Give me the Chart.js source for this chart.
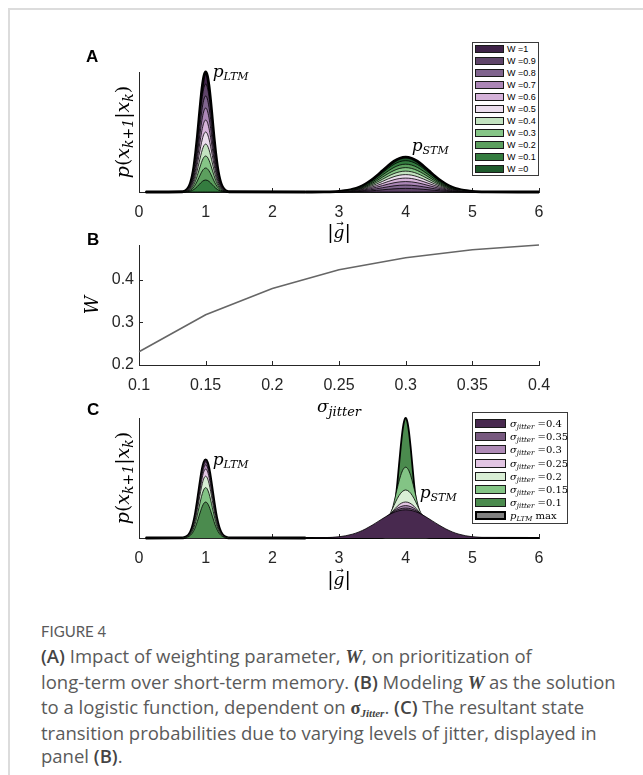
<!DOCTYPE html>
<html>
<head>
<meta charset="utf-8">
<script src="https://cdn.jsdelivr.net/npm/chart.js@4.4.1/dist/chart.umd.min.js"></script>
<style>
  body { margin: 0; width: 643px; height: 775px; overflow: hidden; position: relative; background: #fff; font-family: "Liberation Sans", Arial, sans-serif; }
  #frame { position: absolute; left: 8px; top: 8px; right: -10px; bottom: -10px; border-left: 2px solid #dcdcdc; border-top: 2px solid #dcdcdc; }
  canvas { position: absolute; left: 0; }
  .panel { position: absolute; font: bold 17px "Liberation Sans", Arial, sans-serif; color: #000; line-height: 17px; }
  .legend { position: absolute; background: #fff; border: 1px solid #3a3a3a; box-sizing: border-box; z-index: 5; }
  .legend .row { display: flex; align-items: center; white-space: nowrap; color: #000; }
  .legend .sw { box-sizing: border-box; flex: none; border: 1px solid #1a1a1a; }
  #legA { left: 472px; top: 42px; width: 67px; height: 134px; }
  #legA .row { height: 12px; font-size: 9px; }
  #legA .sw { width: 29px; height: 8px; margin: 0 3px 0 2px; }
  #legC { left: 472px; top: 412px; width: 96px; height: 112px; padding-top: 4px; }
  #legC .row { height: 13.2px; font: 10px "DejaVu Serif", serif; }
  #legC .sw { width: 31px; height: 9px; margin: 0 4px 0 2px; }
  #legC .sw.max { border: 2px solid #000; }
  #legC sub { font-size: 7px; vertical-align: -2px; line-height: 0; }
  #cap { position: absolute; left: 41px; top: 620px; color: #5a5a5a; }
  #cap .fig { font: 15px Lato, "Open Sans", sans-serif; line-height: 22px; }
  #cap .txt { margin-top: 2px; font: 18.5px "Open Sans", Lato, sans-serif; line-height: 23.5px; white-space: nowrap; }
  #cap b { color: #444; font-weight: 600; }
  #cap .m { font-family: "Liberation Serif", serif; font-style: italic; font-weight: bold; }
  #cap sub { font-size: 11px; vertical-align: -3px; line-height: 0; }
</style>
</head>
<body>
<div id="frame"></div>
<canvas id="chartA" width="643" height="225" style="top:30px"></canvas>
<canvas id="chartB" width="643" height="195" style="top:225px"></canvas>
<canvas id="chartC" width="643" height="200" style="top:395px"></canvas>
<div class="panel" style="left:86px;top:48px">A</div>
<div class="panel" style="left:87px;top:231px">B</div>
<div class="panel" style="left:87px;top:401px">C</div>
<div class="legend" id="legA"></div>
<div class="legend" id="legC"></div>
<div id="cap">
  <div class="fig">FIGURE 4</div>
  <div class="txt"><b>(A)</b> Impact of weighting parameter, <b class="m">W</b>, on prioritization of<br>long-term over short-term memory. <b>(B)</b> Modeling <b class="m">W</b> as the solution<br>to a logistic function, dependent on <b class="m" style="font-style:normal">σ<sub><i>Jitter</i></sub></b>. <b>(C)</b> The resultant state<br>transition probabilities due to varying levels of jitter, displayed in<br>panel <b>(B)</b>.</div>
</div>
<script>
// ---- data ----
const gTicks = [0, 1, 2, 3, 4, 5, 6];

// panel A: weighting levels and the peak heights of both memories (LTM peak at W=1 -> 1)
const wLevels = [1, 0.9, 0.8, 0.7, 0.6, 0.5, 0.4, 0.3, 0.2, 0.1, 0];
const ltmPeakA = [1, 0.9, 0.8, 0.7, 0.6, 0.5, 0.4, 0.3, 0.2, 0.1, 0];
const stmPeakA = [0, 0.03, 0.058, 0.087, 0.116, 0.145, 0.174, 0.203, 0.232, 0.261, 0.29];
const wColors = ['#3f2348', '#5f4469', '#80648e', '#ab86b6', '#d5b2d9', '#ecdeee',
                 '#c3e3c0', '#86c687', '#5c9f5e', '#347c3f', '#1e5a2c'];
const ltmWidth = 0.1;
const stmWidthA = 0.35;

// panel B
const sigmaJitter = [0.1, 0.15, 0.2, 0.25, 0.3, 0.35, 0.4];
const weightW = [0.231, 0.318, 0.38, 0.424, 0.452, 0.471, 0.482];
const bTicksY = [0.2, 0.3, 0.4];

// panel C (listed top to bottom as in its legend)
const sigmaC = [0.4, 0.35, 0.3, 0.25, 0.2, 0.15, 0.1];
const ltmPeakC = [0.65, 0.635, 0.61, 0.575, 0.515, 0.42, 0.3];
const stmPeakC = [0.235, 0.25, 0.27, 0.3, 0.4, 0.59, 1];
const cColors = ['#48294f', '#77597f', '#ae8ab6', '#e2c5e3', '#d9eed5', '#83c485', '#4b8b4e'];
const ltmMaxC = 0.65;
const ltmMaxColor = '#7f7f7f';

// bell profile of a peak, read at quarter-width steps
const bellOffsets = [-3.5, -3.25, -3, -2.75, -2.5, -2.25, -2, -1.75, -1.5, -1.25, -1, -0.75, -0.5, -0.25, 0,
                     0.25, 0.5, 0.75, 1, 1.25, 1.5, 1.75, 2, 2.25, 2.5, 2.75, 3, 3.25, 3.5];
const bellShape = [0.002, 0.005, 0.011, 0.023, 0.044, 0.08, 0.135, 0.216, 0.325, 0.458, 0.607, 0.755, 0.883, 0.969, 1,
                   0.969, 0.883, 0.755, 0.607, 0.458, 0.325, 0.216, 0.135, 0.08, 0.044, 0.023, 0.011, 0.005, 0.002];

const axisColor = '#262626';
const tickFont = {family: '"Liberation Sans", Arial, sans-serif', size: 16};

function peak(center, width, height) {
  return bellOffsets.map((z, k) => ({x: center + z * width, y: height * bellShape[k]}));
}
function ltmPiece(width, height) {
  return [{x: 0.1, y: 0}, ...peak(1, width, height), {x: 2.5, y: 0}];
}
function stmPiece(width, height) {
  return [{x: 2.5, y: 0}, ...peak(4, width, height), {x: 6, y: 0}];
}
function area(points, color, lw, order) {
  return {data: points, backgroundColor: color, borderColor: '#000', borderWidth: lw,
          fill: 'origin', order: order, pointRadius: 0, cubicInterpolationMode: 'monotone', clip: false};
}

function xScale(min, max, ticks, height) {
  return {
    type: 'linear', min: min, max: max,
    grid: {display: false, drawTicks: false},
    border: {display: true, color: axisColor, width: 1},
    ticks: {color: axisColor, font: tickFont, padding: 11, autoSkip: false, maxRotation: 0, callback: v => String(v)},
    afterBuildTicks: s => { s.ticks = ticks.map(v => ({value: v})); },
    afterFit: s => { s.height = height; }
  };
}
function blankY(min, max) {
  return {
    min: min, max: max,
    grid: {display: false, drawTicks: false},
    border: {display: true, color: axisColor, width: 1},
    ticks: {display: false},
    afterFit: s => { s.width = 139; }
  };
}

// rich text (sub-scripts) drawn on the canvas
function drawRich(ctx, parts, x, y, rot, align) {
  ctx.save();
  ctx.translate(x, y);
  if (rot) ctx.rotate(rot);
  const fontOf = p => (p.it === false ? '' : 'italic ') + p.s + 'px "DejaVu Serif", serif';
  const widths = parts.map(p => { ctx.font = fontOf(p); return ctx.measureText(p.t).width; });
  const total = widths.reduce((a, b) => a + b, 0);
  let cx = align === 'left' ? 0 : -total / 2;
  ctx.fillStyle = '#000';
  ctx.textBaseline = 'alphabetic';
  ctx.textAlign = 'left';
  parts.forEach((p, i) => {
    ctx.font = fontOf(p);
    ctx.fillText(p.t, cx, p.dy || 0);
    if (p.arrow) {
      ctx.font = '9px "DejaVu Sans", sans-serif';
      ctx.textAlign = 'center';
      ctx.fillText('→', cx + widths[i] / 2 + 1, -12);
      ctx.textAlign = 'left';
    }
    cx += widths[i];
  });
  ctx.restore();
}
function mathLabels(items) {
  return {
    id: 'mathLabels',
    afterDraw(chart) {
      const a = chart.chartArea;
      items.forEach(it => {
        const p = it.at(chart, a);
        drawRich(chart.ctx, it.parts, p.x, p.y, it.rot || 0, it.align || 'center');
      });
    }
  };
}
function inwardTicks(ids) {
  return {
    id: 'inwardTicks',
    beforeDatasetsDraw(chart) {
      const ctx = chart.ctx, a = chart.chartArea;
      ctx.save();
      ctx.strokeStyle = axisColor;
      ctx.lineWidth = 1;
      ids.forEach(id => {
        const s = chart.scales[id];
        s.ticks.forEach(t => {
          const p = Math.round(s.getPixelForValue(t.value)) + 0.5;
          ctx.beginPath();
          if (s.isHorizontal()) { ctx.moveTo(p, a.bottom); ctx.lineTo(p, a.bottom - 4); }
          else { ctx.moveTo(a.left, p); ctx.lineTo(a.left + 4, p); }
          ctx.stroke();
        });
      });
      ctx.restore();
    }
  };
}

const yLabelParts = [
  {t: 'p', s: 19}, {t: '(', s: 19, it: false}, {t: 'x', s: 19}, {t: 'k+1', s: 14, dy: 4},
  {t: '|', s: 19, it: false}, {t: 'x', s: 19}, {t: 'k', s: 14, dy: 4}, {t: ')', s: 19, it: false}
];
const gLabelParts = [{t: '|', s: 19, it: false}, {t: 'g', s: 17, arrow: true}, {t: '|', s: 19, it: false}];
const midX = a => (a.left + a.right) / 2;
const midY = a => (a.top + a.bottom) / 2;
const commonOpts = {
  responsive: false, animation: false, events: [],
  plugins: {legend: {display: false}, tooltip: {enabled: false}}
};

// ---- panel A ----
const dsA = [];
wLevels.forEach((w, i) => {
  dsA.push(area(ltmPiece(ltmWidth, ltmPeakA[i]), wColors[i], i === 0 ? 2.8 : 0.8, 100 - i));
  dsA.push(area(stmPiece(stmWidthA, stmPeakA[i]), wColors[i], i === wLevels.length - 1 ? 2.8 : 0.8, 50 + i));
});
new Chart(document.getElementById('chartA'), {
  type: 'line',
  data: {datasets: dsA},
  options: Object.assign({}, commonOpts, {
    layout: {padding: {left: 0, right: 104, top: 42, bottom: 0}},
    scales: {x: xScale(0, 6, gTicks, 63), y: blankY(0, 1)}
  }),
  plugins: [inwardTicks(['x']), mathLabels([
    {parts: yLabelParts, rot: -Math.PI / 2, at: (c, a) => ({x: a.left - 10, y: midY(a)})},
    {parts: gLabelParts, at: (c, a) => ({x: midX(a), y: a.bottom + 46})},
    {parts: [{t: 'p', s: 17}, {t: 'LTM', s: 11, dy: 3}], align: 'left',
     at: c => ({x: c.scales.x.getPixelForValue(1) + 7, y: c.scales.y.getPixelForValue(ltmPeakA[0]) + 5})},
    {parts: [{t: 'p', s: 17}, {t: 'STM', s: 11, dy: 3}], align: 'left',
     at: c => ({x: c.scales.x.getPixelForValue(4) + 6, y: c.scales.y.getPixelForValue(stmPeakA[10]) - 6})}
  ])]
});
document.getElementById('legA').innerHTML = wLevels.map((w, i) =>
  `<div class="row"><span class="sw" style="background:${wColors[i]}"></span>W =${w}</div>`).join('');

// ---- panel B ----
new Chart(document.getElementById('chartB'), {
  type: 'line',
  data: {datasets: [{
    data: sigmaJitter.map((s, i) => ({x: s, y: weightW[i]})),
    borderColor: '#666', borderWidth: 1.6, pointRadius: 0, fill: false, tension: 0, clip: false
  }]},
  options: Object.assign({}, commonOpts, {
    layout: {padding: {left: 0, right: 104, top: 20, bottom: 0}},
    scales: {
      x: xScale(0.1, 0.4, sigmaJitter, 55),
      y: {
        min: 0.2, max: 0.482,
        grid: {display: false, drawTicks: false},
        border: {display: true, color: axisColor, width: 1},
        ticks: {color: axisColor, font: tickFont, padding: 5, callback: v => String(v)},
        afterBuildTicks: s => { s.ticks = bTicksY.map(v => ({value: v})); },
        afterFit: s => { s.width = 139; }
      }
    }
  }),
  plugins: [inwardTicks(['x', 'y']), mathLabels([
    {parts: [{t: 'W', s: 18}], rot: -Math.PI / 2, at: (c, a) => ({x: a.left - 41, y: midY(a)})},
    {parts: [{t: 'σ', s: 17}, {t: 'jitter', s: 13, dy: 4}], at: (c, a) => ({x: midX(a), y: a.bottom + 47})}
  ])]
});

// ---- panel C ----
const dsC = [area(ltmPiece(ltmWidth, ltmMaxC), ltmMaxColor, 2.8, 200)];
sigmaC.forEach((s, j) => {
  dsC.push(area(ltmPiece(ltmWidth, ltmPeakC[j]), cColors[j], 0.8, 100 - j));
  dsC.push(area(stmPiece(s, stmPeakC[j]), cColors[j], j === sigmaC.length - 1 ? 1.8 : 0.8, 50 + j));
});
new Chart(document.getElementById('chartC'), {
  type: 'line',
  data: {datasets: dsC},
  options: Object.assign({}, commonOpts, {
    layout: {padding: {left: 0, right: 104, top: 23, bottom: 0}},
    scales: {x: xScale(0, 6, gTicks, 57), y: blankY(0, 1)}
  }),
  plugins: [inwardTicks(['x']), mathLabels([
    {parts: yLabelParts, rot: -Math.PI / 2, at: (c, a) => ({x: a.left - 10, y: midY(a)})},
    {parts: gLabelParts, at: (c, a) => ({x: midX(a), y: a.bottom + 47})},
    {parts: [{t: 'p', s: 17}, {t: 'LTM', s: 11, dy: 3}], align: 'left',
     at: c => ({x: c.scales.x.getPixelForValue(1) + 7, y: c.scales.y.getPixelForValue(ltmMaxC) + 5})},
    {parts: [{t: 'p', s: 17}, {t: 'STM', s: 11, dy: 3}], align: 'left',
     at: c => ({x: c.scales.x.getPixelForValue(4) + 14, y: c.scales.y.getPixelForValue(0.33)})}
  ])]
});
document.getElementById('legC').innerHTML = sigmaC.map((s, j) =>
  `<div class="row"><span class="sw" style="background:${cColors[j]}"></span><i>σ<sub>jitter</sub></i>&nbsp;=${s}</div>`).join('') +
  `<div class="row"><span class="sw max" style="background:${ltmMaxColor}"></span><i>p<sub>LTM</sub></i>&nbsp;max</div>`;
</script>
</body>
</html>
